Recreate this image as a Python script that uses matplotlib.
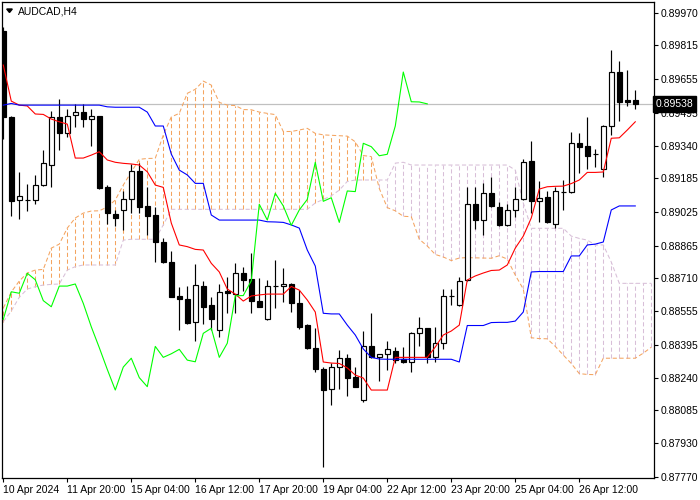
import matplotlib
matplotlib.use("Agg")
import matplotlib.pyplot as plt
from matplotlib.patches import Polygon
import numpy as np

plt.rcParams['font.family'] = ['Liberation Sans', 'DejaVu Sans']

chart_title = "AUDCAD,H4"

opens = [0.89885, 0.89477, 0.89081, 0.89081, 0.89081, 0.89152, 0.89250, 0.89474, 0.89401, 0.89486,
         0.89498, 0.89465, 0.89479, 0.89142, 0.89016, 0.89033, 0.89089, 0.89220, 0.89054, 0.89011,
         0.88883, 0.88787, 0.88627, 0.88613, 0.88505, 0.88674, 0.88584, 0.88466, 0.88652, 0.88635,
         0.88736, 0.88708, 0.88603, 0.88518, 0.88676, 0.88673, 0.88684, 0.88592, 0.88489, 0.88382,
         0.88281, 0.88185, 0.88289, 0.88332, 0.88241, 0.88134, 0.88388, 0.88336, 0.88353, 0.88368,
         0.88327, 0.88315, 0.88450, 0.88474, 0.88339, 0.88406, 0.88628, 0.88583, 0.88701, 0.89062,
         0.88987, 0.89114, 0.89050, 0.88962, 0.89035, 0.89085, 0.89266, 0.89076, 0.89095, 0.88967,
         0.89121, 0.89121, 0.89351, 0.89338, 0.89300, 0.89228, 0.89431, 0.89689, 0.89555, 0.89556]
highs = [0.89904, 0.89482, 0.89213, 0.89158, 0.89201, 0.89319, 0.89504, 0.89562, 0.89513, 0.89537,
         0.89539, 0.89513, 0.89482, 0.89153, 0.89035, 0.89127, 0.89255, 0.89256, 0.89144, 0.89050,
         0.88900, 0.88840, 0.88671, 0.88674, 0.88779, 0.88697, 0.88624, 0.88684, 0.88717, 0.88782,
         0.88763, 0.88832, 0.88711, 0.88703, 0.88798, 0.88760, 0.88690, 0.88655, 0.88494, 0.88474,
         0.88289, 0.88308, 0.88371, 0.88352, 0.88289, 0.88461, 0.88546, 0.88354, 0.88414, 0.88384,
         0.88384, 0.88455, 0.88526, 0.88475, 0.88481, 0.88659, 0.88659, 0.88716, 0.89145, 0.89145,
         0.89164, 0.89190, 0.89071, 0.89063, 0.89145, 0.89275, 0.89362, 0.89174, 0.89126, 0.89145,
         0.89178, 0.89404, 0.89401, 0.89476, 0.89322, 0.89438, 0.89793, 0.89741, 0.89698, 0.89604]
lows = [0.89370, 0.89008, 0.88991, 0.89031, 0.89063, 0.89148, 0.89145, 0.89321, 0.89381, 0.89428,
        0.89428, 0.89339, 0.89136, 0.88968, 0.88959, 0.88940, 0.89020, 0.89019, 0.88916, 0.88790,
        0.88783, 0.88622, 0.88466, 0.88492, 0.88415, 0.88494, 0.88466, 0.88434, 0.88548, 0.88548,
        0.88651, 0.88548, 0.88575, 0.88513, 0.88571, 0.88600, 0.88552, 0.88469, 0.88376, 0.88268,
        0.87818, 0.88110, 0.88187, 0.88154, 0.88196, 0.88126, 0.88335, 0.88225, 0.88276, 0.88308,
        0.88308, 0.88268, 0.88391, 0.88308, 0.88313, 0.88377, 0.88583, 0.88580, 0.88698, 0.88943,
        0.88915, 0.89051, 0.88959, 0.88959, 0.89003, 0.89082, 0.89022, 0.88979, 0.88975, 0.88951,
        0.89035, 0.89113, 0.89211, 0.89231, 0.89240, 0.89193, 0.89390, 0.89458, 0.89528, 0.89515]
closes = [0.89474, 0.89079, 0.89101, 0.89082, 0.89152, 0.89256, 0.89474, 0.89401, 0.89482, 0.89498,
          0.89465, 0.89479, 0.89140, 0.89019, 0.88998, 0.89085, 0.89220, 0.89050, 0.89008, 0.88882,
          0.88787, 0.88624, 0.88611, 0.88500, 0.88678, 0.88576, 0.88516, 0.88647, 0.88640, 0.88735,
          0.88704, 0.88605, 0.88576, 0.88674, 0.88674, 0.88684, 0.88592, 0.88481, 0.88382, 0.88279,
          0.88181, 0.88290, 0.88332, 0.88240, 0.88197, 0.88388, 0.88336, 0.88353, 0.88374, 0.88323,
          0.88315, 0.88450, 0.88474, 0.88336, 0.88403, 0.88628, 0.88629, 0.88699, 0.89062, 0.88987,
          0.89114, 0.89054, 0.88962, 0.89035, 0.89085, 0.89261, 0.89076, 0.89093, 0.88976, 0.89125,
          0.89122, 0.89351, 0.89335, 0.89292, 0.89299, 0.89433, 0.89689, 0.89548, 0.89547, 0.89538]

tenkan = [0.89722, 0.89551, 0.89532, 0.89528, 0.89490, 0.89488, 0.89466, 0.89453, 0.89442, 0.89281,
          0.89281, 0.89295, 0.89311, 0.89272, 0.89261, 0.89256, 0.89253, 0.89248, 0.89216, 0.89153,
          0.89142, 0.88973, 0.88869, 0.88861, 0.88848, 0.88845, 0.88782, 0.88741, 0.88660, 0.88636,
          0.88603, 0.88627, 0.88632, 0.88636, 0.88636, 0.88636, 0.88672, 0.88655, 0.88608, 0.88551,
          0.88314, 0.88309, 0.88307, 0.88286, 0.88252, 0.88238, 0.88181, 0.88181, 0.88181, 0.88336,
          0.88336, 0.88336, 0.88336, 0.88336, 0.88385, 0.88442, 0.88461, 0.88489, 0.88703, 0.88722,
          0.88736, 0.88748, 0.88750, 0.88774, 0.88854, 0.88911, 0.88997, 0.89134, 0.89145, 0.89147,
          0.89148, 0.89160, 0.89177, 0.89213, 0.89213, 0.89215, 0.89375, 0.89377, 0.89414, 0.89453]
kijun = [0.89532, 0.89540, 0.89532, 0.89532, 0.89532, 0.89532, 0.89532, 0.89532, 0.89532, 0.89532,
         0.89532, 0.89532, 0.89532, 0.89524, 0.89522, 0.89522, 0.89522, 0.89522, 0.89499, 0.89433,
         0.89433, 0.89300, 0.89224, 0.89201, 0.89161, 0.89161, 0.89011, 0.88987, 0.88987, 0.88987,
         0.88987, 0.88987, 0.88987, 0.88979, 0.88978, 0.88976, 0.88964, 0.88949, 0.88845, 0.88769,
         0.88545, 0.88542, 0.88542, 0.88489, 0.88442, 0.88376, 0.88336, 0.88328, 0.88327, 0.88327,
         0.88327, 0.88327, 0.88327, 0.88327, 0.88327, 0.88327, 0.88327, 0.88314, 0.88487, 0.88487,
         0.88487, 0.88501, 0.88502, 0.88502, 0.88508, 0.88551, 0.88741, 0.88743, 0.88743, 0.88743,
         0.88743, 0.88817, 0.88817, 0.88869, 0.88873, 0.88883, 0.89035, 0.89054, 0.89054, 0.89054]
span_a = [0.88570, 0.88646, 0.88698, 0.88736, 0.88750, 0.88753, 0.88854, 0.88873, 0.88949, 0.88997,
          0.89020, 0.89030, 0.89031, 0.89049, 0.89082, 0.89153, 0.89215, 0.89275, 0.89279, 0.89280,
          0.89390, 0.89476, 0.89493, 0.89588, 0.89607, 0.89646, 0.89627, 0.89545, 0.89532, 0.89530,
          0.89511, 0.89510, 0.89499, 0.89493, 0.89487, 0.89407, 0.89407, 0.89414, 0.89422, 0.89398,
          0.89391, 0.89389, 0.89387, 0.89385, 0.89358, 0.89293, 0.89288, 0.89137, 0.89046, 0.89031,
          0.89005, 0.89003, 0.88896, 0.88864, 0.88824, 0.88812, 0.88795, 0.88807, 0.88809, 0.88808,
          0.88807, 0.88806, 0.88818, 0.88802, 0.88726, 0.88660, 0.88429, 0.88425, 0.88424, 0.88388,
          0.88347, 0.88307, 0.88259, 0.88255, 0.88254, 0.88332, 0.88332, 0.88332, 0.88332, 0.88332,
          0.88356, 0.88384]
span_b = [0.88505, 0.88556, 0.88621, 0.88660, 0.88671, 0.88679, 0.88682, 0.88684, 0.88750, 0.88766,
          0.88774, 0.88774, 0.88774, 0.88774, 0.88774, 0.88892, 0.88896, 0.88896, 0.88896, 0.88896,
          0.88964, 0.89038, 0.89038, 0.89038, 0.89038, 0.89038, 0.89038, 0.89038, 0.89038, 0.89038,
          0.89038, 0.89038, 0.89038, 0.89038, 0.89038, 0.89038, 0.89038, 0.89038, 0.89038, 0.89068,
          0.89085, 0.89102, 0.89129, 0.89170, 0.89177, 0.89177, 0.89177, 0.89177, 0.89177, 0.89257,
          0.89261, 0.89248, 0.89248, 0.89248, 0.89248, 0.89248, 0.89248, 0.89248, 0.89248, 0.89248,
          0.89248, 0.89248, 0.89248, 0.89248, 0.89224, 0.89068, 0.88948, 0.88948, 0.88948, 0.88948,
          0.88948, 0.88911, 0.88900, 0.88892, 0.88869, 0.88869, 0.88788, 0.88687, 0.88687, 0.88687,
          0.88687, 0.88687]

chikou_shift = 26
x_tick_bars = [0, 8, 16, 24, 32, 40, 48, 56, 64, 72]
x_tick_labels = ["10 Apr 2024", "11 Apr 20:00", "15 Apr 04:00", "16 Apr 12:00", "17 Apr 20:00",
                 "19 Apr 04:00", "22 Apr 12:00", "23 Apr 20:00", "25 Apr 04:00", "26 Apr 12:00"]
y_ticks = [0.89970, 0.89815, 0.89655, 0.89495, 0.89340, 0.89185, 0.89025, 0.88865,
           0.88710, 0.88555, 0.88395, 0.88240, 0.88085, 0.87930, 0.87770]
last_price = 0.89538

SANDY = '#F4A460'
THISTLE = '#D8BFD8'

W, H = 700, 500
fig = plt.figure(figsize=(7, 5), dpi=100)
ax = fig.add_axes([2 / W, 22 / H, 652 / W, 476 / H])

n = len(closes)
x = np.arange(n)
xa = np.arange(len(span_a))

# cloud hatching
for i in range(len(span_a)):
    a, b = span_a[i], span_b[i]
    col = SANDY if a >= b else THISTLE
    ax.vlines(i, min(a, b), max(a, b), colors=col, linewidth=0.75,
              linestyles=(0, (4, 2.5)), zorder=1)
ax.plot(xa, span_a, color=SANDY, lw=0.75, ls=(0, (4, 2.5)), zorder=1.5)
ax.plot(xa, span_b, color=THISTLE, lw=0.75, ls=(0, (4, 2.5)), zorder=1.5)

# current price line
ax.axhline(last_price, color='#C0C0C0', lw=0.9, zorder=0.8)

# candles
o = np.array(opens); c = np.array(closes); h = np.array(highs); l = np.array(lows)
ax.vlines(x, l, h, colors='black', linewidth=0.85, zorder=2)
bottoms = np.minimum(o, c)
heights = np.maximum(np.abs(c - o), 0.000005)
faces = ['white' if cc >= oo else 'black' for oo, cc in zip(o, c)]
ax.bar(x, heights, bottom=bottoms, width=0.62, color=faces, edgecolor='black',
       linewidth=0.85, zorder=2.2)

# ichimoku lines
ax.plot(x, tenkan, color='#FF0000', lw=0.8, zorder=3)
ax.plot(x, kijun, color='#0000FF', lw=0.8, zorder=3)
ax.plot(x[:n - chikou_shift], closes[chikou_shift:], color='#00FF00', lw=0.8, zorder=3)

ax.set_xlim(-0.16, 81.34)
ax.set_ylim(0.87764, 0.90021)

ax.yaxis.tick_right()
ax.set_yticks(y_ticks)
ax.set_yticklabels([f"{v:.5f}" for v in y_ticks])
ax.tick_params(axis='y', direction='out', length=3, width=0.8, pad=2, labelsize=7.5)
ax.set_xticks(x_tick_bars)
ax.set_xticklabels(x_tick_labels, ha='left')
ax.tick_params(axis='x', direction='out', length=3, width=0.8, pad=2, labelsize=7.5)
for lab in ax.get_xticklabels():
    lab.set_horizontalalignment('left')
for s in ax.spines.values():
    s.set_linewidth(0.9)
    s.set_color('black')

# last price tag
ax.text(1.0 + 1.5 / 652, last_price, "0.89538", transform=ax.get_yaxis_transform(),
        ha='left', va='center', fontsize=7.5, color='white', zorder=10, clip_on=False,
        bbox=dict(boxstyle='square,pad=0.28', fc='black', ec='black'))

# title with triangle
fig.text(18 / W, 1 - 11 / H, chart_title, fontsize=7.5, va='center', ha='left')
tri = Polygon([(6.7 / W, 1 - 9 / H), (12.3 / W, 1 - 9 / H), (9.5 / W, 1 - 12.5 / H)],
              closed=True, transform=fig.transFigure, color='black')
fig.patches.append(tri)

fig.savefig("out.png", dpi=100)
